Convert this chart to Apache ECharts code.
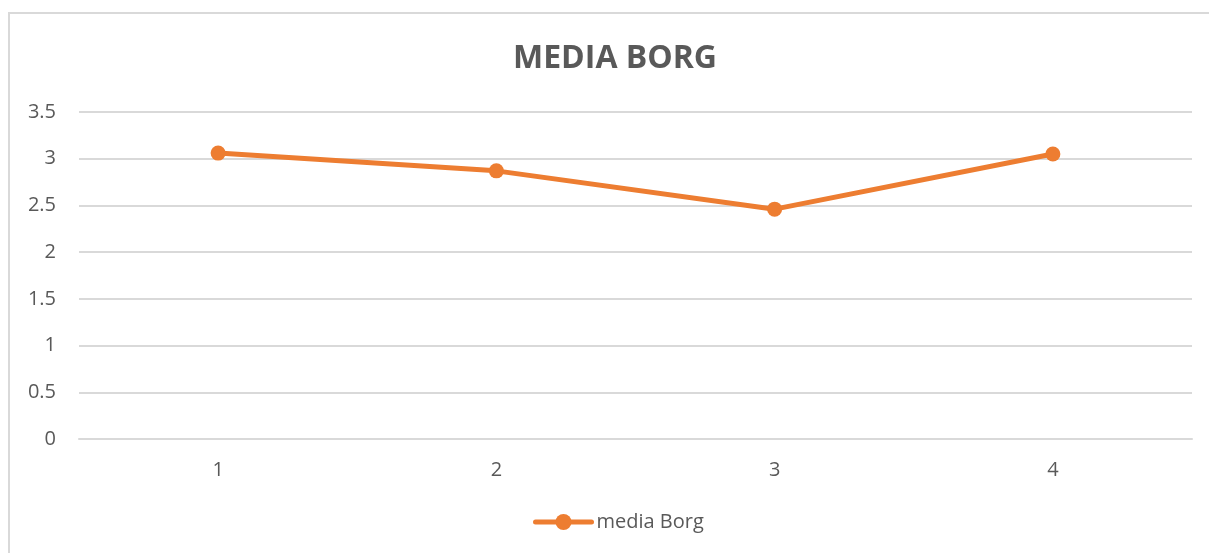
<!DOCTYPE html>
<html>
<head>
<meta charset="utf-8">
<script src="https://cdn.jsdelivr.net/npm/echarts@6/dist/echarts.min.js"></script>
<style>
  html, body { margin: 0; padding: 0; background: #fff; }
  #chart { width: 1209px; height: 553px; }
</style>
</head>
<body>
<div id="chart"></div>
<script>
// Average Borg score per session
const categories = ['1', '2', '3', '4'];
const mediaBorg = [3.06, 2.87, 2.46, 3.05];
const yTicks = { min: 0, max: 3.5, interval: 0.5 };
const seriesName = 'media Borg';
const chartTitle = 'MEDIA BORG';

const FONT = '"Open Sans", "Noto Sans", sans-serif';
const TEXT = '#595959';
const GRID = '#d9d9d9';
const ORANGE = '#ED7D31';

const chart = echarts.init(document.getElementById('chart'), null, { renderer: 'canvas' });

chart.setOption({
  backgroundColor: '#ffffff',
  animation: false,
  graphic: [{
    type: 'rect',
    shape: { x: 9, y: 13, width: 1260, height: 600 },
    style: { fill: 'none', stroke: GRID, lineWidth: 2 },
    silent: true, z: -1
  }],
  title: {
    text: chartTitle,
    left: 513,
    top: 43,
    padding: 0,
    textStyle: { fontFamily: FONT, fontSize: 32, fontWeight: 'bold', color: TEXT }
  },
  grid: { left: 79, right: 17, top: 112, bottom: 114, containLabel: false },
  xAxis: {
    type: 'category',
    data: categories,
    boundaryGap: true,
    axisLine: { show: true, lineStyle: { color: GRID, width: 2 } },
    axisTick: { show: false },
    axisLabel: { color: TEXT, fontFamily: FONT, fontSize: 20, margin: 21 },
    splitLine: { show: false }
  },
  yAxis: {
    type: 'value',
    min: yTicks.min,
    max: yTicks.max,
    interval: yTicks.interval,
    axisLine: { show: false },
    axisTick: { show: false },
    axisLabel: { color: TEXT, fontFamily: FONT, fontSize: 20, margin: 23 },
    splitLine: { lineStyle: { color: GRID, width: 2 } }
  },
  legend: {
    data: [seriesName],
    left: 533,
    top: 512,
    padding: 0,
    itemWidth: 56,
    itemHeight: 20,
    lineStyle: { width: 5, cap: 'round' },
    textStyle: { color: TEXT, fontFamily: FONT, fontSize: 20 }
  },
  series: [{
    name: seriesName,
    type: 'line',
    data: mediaBorg,
    symbol: 'circle',
    symbolSize: 15,
    itemStyle: { color: ORANGE },
    lineStyle: { color: ORANGE, width: 5, cap: 'round' }
  }]
});
</script>
</body>
</html>
